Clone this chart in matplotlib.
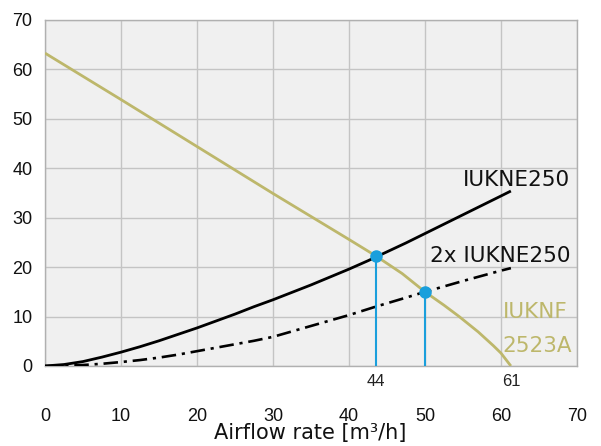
import matplotlib
matplotlib.use("Agg")
import matplotlib.pyplot as plt
import matplotlib.transforms as mtransforms

# Data
fan_x = [0, 10, 20, 30, 40, 43.5, 47, 50, 52.5, 54.5, 57, 59, 60, 61.3]
fan_y = [63.3, 53.9, 44.4, 34.9, 25.6, 22.3, 18.7, 15.0, 12.3, 10.0, 6.9, 4.1, 2.6, 0]
single_x = [0, 2.5, 5, 7.5, 10, 12.5, 15, 17.5, 20, 22.5, 25, 27.5, 30, 32.5, 35,
            37.5, 40, 42.5, 45, 47.5, 50, 52.5, 55, 57.5, 60, 61.3]
single_y = [0, 0.3, 0.9, 1.8, 2.8, 3.9, 5.1, 6.4, 7.7, 9.1, 10.5, 12.0, 13.4, 14.9, 16.4,
            18.0, 19.6, 21.3, 23.1, 24.9, 26.8, 28.7, 30.6, 32.5, 34.4, 35.4]
double_x = [0, 2.5, 5, 7.5, 10, 12.5, 15, 17.5, 20, 22.5, 25, 27.5, 30, 32.5, 35,
            37.5, 40, 43.5, 47, 50, 55, 60, 61.3]
double_y = [0, 0.05, 0.2, 0.45, 0.8, 1.2, 1.7, 2.3, 3.0, 3.7, 4.4, 5.1, 5.9, 7.0, 8.1,
            9.2, 10.3, 12.0, 13.6, 15.0, 17.2, 19.3, 19.8]
op_x = [43.5, 50]
op_y = [22.3, 15.0]
extra_x = [43.5, 61.4]
extra_labels = ["44", "61"]
x_ticks = [0, 10, 20, 30, 40, 50, 60, 70]
y_ticks = [0, 10, 20, 30, 40, 50, 60, 70]

OLIVE = "#bdb76b"
BLUE = "#1a9fdc"

fig = plt.figure(figsize=(6.01, 4.46), dpi=100)
ax = fig.add_axes([45/601, 80/446, 532/601, 346/446])
ax.set_facecolor("#f0f0f0")
ax.set_xlim(0, 70)
ax.set_ylim(0, 70)
ax.set_xticks(x_ticks)
ax.set_yticks(y_ticks)
ax.grid(True, color="#c4c4c4", lw=1.0)
ax.set_axisbelow(True)
for s in ax.spines.values():
    s.set_color("#b0b0b0")
    s.set_linewidth(1.0)
ax.tick_params(length=0, labelsize=13, colors="#111111")
ax.tick_params(axis="x", pad=30)
ax.tick_params(axis="y", pad=9)
for lab in ax.get_xticklabels() + ax.get_yticklabels():
    lab.set_family("Liberation Sans")

ax.plot(fan_x, fan_y, color=OLIVE, lw=2.0, zorder=3, solid_capstyle="butt")
ax.plot(single_x, single_y, color="black", lw=2.0, zorder=3, solid_capstyle="butt")
ax.plot(double_x, double_y, color="black", lw=1.9, dashes=(5.5, 2.2, 1.2, 2.2), zorder=3)

for xv, yv in zip(op_x, op_y):
    ax.plot([xv, xv], [0, yv], color=BLUE, lw=1.5, zorder=4)
ax.plot(op_x, op_y, "o", color=BLUE, ms=8, zorder=5)

trans = mtransforms.blended_transform_factory(ax.transData, ax.transAxes)
for xv, lab in zip(extra_x, extra_labels):
    ax.text(xv, -0.045, lab, transform=trans, ha="center", va="center",
            fontsize=12, family="Liberation Sans", color="#222222")

ax.text(69.1, 36.4, "IUKNE250", ha="right", va="baseline", fontsize=15.5, color="#111111")
ax.text(69.1, 21.0, "2x IUKNE250", ha="right", va="baseline", fontsize=15.5, color="#111111")
ax.text(60.2, 9.7, "IUKNF", ha="left", va="baseline", fontsize=15.5, color=OLIVE)
ax.text(60.2, 2.8, "2523A", ha="left", va="baseline", fontsize=15.5, color=OLIVE)

fig.text(310/601, 1 - 433/446, "Airflow rate [m³/h]", ha="center", va="center",
         fontsize=15, color="#111111")

fig.savefig("out.png", dpi=100)
